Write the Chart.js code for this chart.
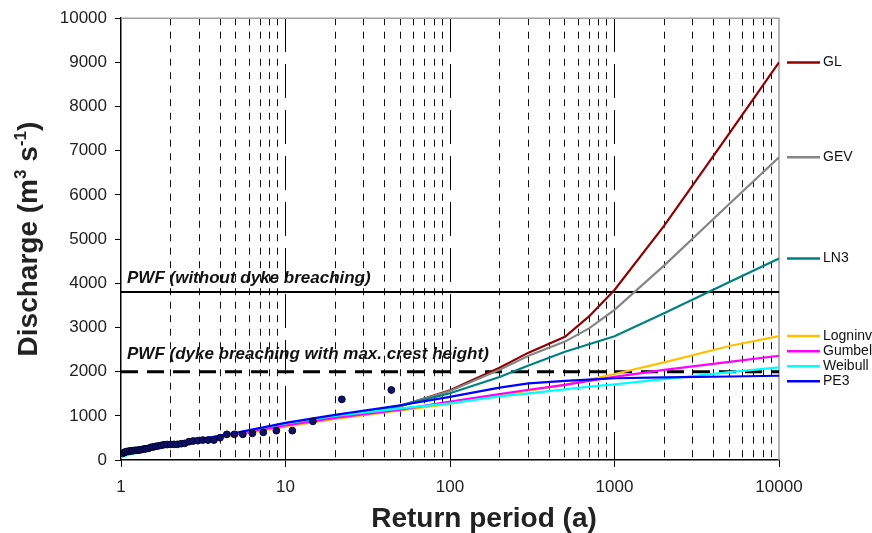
<!DOCTYPE html>
<html>
<head>
<meta charset="utf-8">
<script src="https://cdn.jsdelivr.net/npm/chart.js@4/dist/chart.umd.min.js"></script>
<style>
  html, body { margin: 0; padding: 0; background: #fff; }
  #wrap { width: 872px; height: 533px; }
</style>
</head>
<body>
<div id="wrap"><canvas id="chart" width="872" height="533"></canvas></div>
<script>
// return periods (a) at which the fitted curves are given
const periods = [1, 1.5, 2, 3, 5, 10, 20, 50, 100, 200, 300, 500, 700, 1000, 2000, 5000, 10000];

// discharge (m3/s) of each fitted distribution
const glValues      = [110, 250, 340, 450, 580, 770, 960, 1220, 1580, 2090, 2430, 2790, 3250, 3850, 5300, 7400, 9000];
const gevValues     = [110, 250, 340, 450, 580, 770, 960, 1230, 1560, 2040, 2360, 2680, 2980, 3400, 4400, 5800, 6850];
const ln3Values     = [110, 250, 340, 455, 585, 780, 970, 1230, 1510, 1880, 2140, 2450, 2620, 2800, 3320, 4030, 4560];
const logninvValues = [100, 240, 330, 440, 565, 755, 930, 1120, 1270, 1470, 1570, 1700, 1820, 1946, 2210, 2580, 2805];
const gumbelValues  = [110, 250, 345, 460, 590, 780, 950, 1140, 1320, 1490, 1590, 1700, 1790, 1880, 2040, 2220, 2360];
const weibullValues = [70, 250, 350, 470, 610, 830, 1000, 1170, 1280, 1440, 1510, 1600, 1660, 1710, 1830, 1990, 2097];
const pe3Values     = [120, 260, 355, 470, 615, 840, 1020, 1240, 1430, 1640, 1735, 1790, 1820, 1850, 1870, 1890, 1907];

// observed annual maxima (plotting positions)
const obsPeriods = [1.02, 1.05, 1.07, 1.10, 1.13, 1.16, 1.19, 1.22, 1.26, 1.29, 1.33, 1.38, 1.42, 1.47, 1.52,
  1.57, 1.63, 1.69, 1.76, 1.83, 1.91, 2.0, 2.1, 2.2, 2.32, 2.44, 2.59, 2.75, 2.93, 3.14, 3.38, 3.67, 4.0,
  4.4, 4.89, 5.5, 6.29, 7.33, 8.8, 11, 14.67, 22, 44];
const obsValues = [150, 170, 189, 195, 204, 208, 211, 219, 222, 226, 235, 249, 255, 264, 287,
  295, 309, 320, 332, 347, 350, 354, 354, 354, 369, 377, 415, 430, 437, 452, 452, 452, 505,
  581, 581, 581, 603, 626, 664, 664, 875, 1373, 1584];

// probable worst floods
const pwfLevels = [3800, 2000];
const pwfLabels = ['PWF (without dyke breaching)', 'PWF (dyke breaching with max. crest height)'];

const yTicks = [0, 1000, 2000, 3000, 4000, 5000, 6000, 7000, 8000, 9000, 10000];
const xDecades = [1, 10, 100, 1000, 10000];

const FONT = "'Liberation Sans', Arial, Helvetica, sans-serif";

function pts(xs, ys) {
    return xs.map((x, i) => ({ x: x, y: ys[i] }));
}

const curves = [
    { label: 'GL', values: glValues, color: '#900000' },
    { label: 'GEV', values: gevValues, color: '#858585' },
    { label: 'LN3', values: ln3Values, color: '#008080' },
    { label: 'Logninv', values: logninvValues, color: '#FFC000' },
    { label: 'Gumbel', values: gumbelValues, color: '#FF00FF' },
    { label: 'Weibull', values: weibullValues, color: '#00FFFF' },
    { label: 'PE3', values: pe3Values, color: '#0000FF' }
];

const datasets = [];
datasets.push({
    type: 'scatter',
    label: 'observed',
    data: pts(obsPeriods, obsValues),
    xAxisID: 'x',
    pointRadius: 3.4,
    pointBackgroundColor: '#10106a',
    pointBorderColor: '#000030',
    pointBorderWidth: 1,
    order: 0
});
curves.forEach((c, i) => {
    datasets.push({
        type: 'line',
        label: c.label,
        data: pts(periods, c.values),
        xAxisID: 'x',
        borderColor: c.color,
        borderWidth: 2.2,
        pointRadius: 0,
        tension: 0,
        fill: false,
        order: 10 - i
    });
});
datasets.push({
    type: 'line',
    label: 'pwf1',
    data: pts([1, 10000], [pwfLevels[0], pwfLevels[0]]),
    xAxisID: 'x',
    borderColor: '#000',
    borderWidth: 2,
    pointRadius: 0,
    order: 20
});
datasets.push({
    type: 'line',
    label: 'pwf2',
    data: pts([1, 10000], [pwfLevels[1], pwfLevels[1]]),
    xAxisID: 'x',
    borderColor: '#000',
    borderWidth: 3,
    borderDash: [17, 9],
    pointRadius: 0,
    order: 20
});

function isDecade(v) {
    return xDecades.indexOf(v) >= 0;
}

// Extra drawing: frame, PWF labels, legend, axis titles
const decor = {
    id: 'decor',
    beforeDatasetsDraw(chart) {
        const a = chart.chartArea;
        const ctx = chart.ctx;
        ctx.save();
        ctx.strokeStyle = '#a0a0a0';
        ctx.lineWidth = 1.5;
        ctx.beginPath();
        ctx.moveTo(a.left, a.top);
        ctx.lineTo(a.right, a.top);
        ctx.lineTo(a.right, a.bottom);
        ctx.stroke();
        ctx.restore();
    },
    afterDatasetsDraw(chart) {
        const ctx = chart.ctx;
        const y = chart.scales.y;
        const a = chart.chartArea;
        ctx.save();

        // PWF labels
        ctx.fillStyle = '#111';
        ctx.font = 'italic bold 17px ' + FONT;
        ctx.textBaseline = 'alphabetic';
        ctx.textAlign = 'left';
        ctx.fillText(pwfLabels[0], a.left + 6, y.getPixelForValue(pwfLevels[0]) - 9);
        ctx.fillText(pwfLabels[1], a.left + 6, y.getPixelForValue(pwfLevels[1]) - 13);

        // legend at the end of each curve, spread so labels do not overlap
        const items = curves.map(c => ({ c: c, y: y.getPixelForValue(c.values[c.values.length - 1]) }));
        items.sort((p, q) => p.y - q.y);
        const gap = 15;
        for (let it = 0; it < 60; it++) {
            for (let i = 0; i < items.length - 1; i++) {
                const d = items[i + 1].y - items[i].y;
                if (d < gap) {
                    items[i].y -= (gap - d) / 2;
                    items[i + 1].y += (gap - d) / 2;
                }
            }
        }
        ctx.font = '14px ' + FONT;
        ctx.textBaseline = 'middle';
        items.forEach(p => {
            ctx.strokeStyle = p.c.color;
            ctx.lineWidth = 2.5;
            ctx.beginPath();
            ctx.moveTo(a.right + 8, p.y);
            ctx.lineTo(a.right + 41, p.y);
            ctx.stroke();
            ctx.fillStyle = '#111';
            ctx.fillText(p.c.label, a.right + 44, p.y);
        });
        ctx.restore();
    },
    afterDraw(chart) {
        const ctx = chart.ctx;
        const a = chart.chartArea;
        ctx.save();
        ctx.fillStyle = '#222';

        // x title
        ctx.font = 'bold 28px ' + FONT;
        ctx.textAlign = 'center';
        ctx.textBaseline = 'alphabetic';
        ctx.fillText('Return period (a)', 484, 527);

        // y title with superscripts
        const parts = [
            { t: 'Discharge (m', sup: false },
            { t: '3', sup: true },
            { t: ' s', sup: false },
            { t: '-1', sup: true },
            { t: ')', sup: false }
        ];
        const big = 'bold 28px ' + FONT;
        const small = 'bold 17px ' + FONT;
        let total = 0;
        parts.forEach(p => {
            ctx.font = p.sup ? small : big;
            p.w = ctx.measureText(p.t).width;
            total += p.w;
        });
        ctx.translate(27, (a.top + a.bottom) / 2);
        ctx.rotate(-Math.PI / 2);
        ctx.textAlign = 'left';
        let x = -total / 2;
        parts.forEach(p => {
            ctx.font = p.sup ? small : big;
            ctx.fillText(p.t, x, p.sup ? -1 : 10);
            x += p.w;
        });
        ctx.restore();
    }
};

new Chart(document.getElementById('chart'), {
    data: { datasets: datasets },
    options: {
        responsive: false,
        animation: false,
        devicePixelRatio: 1,
        layout: { padding: { top: 18, right: 93, left: 0, bottom: 0 } },
        plugins: {
            legend: { display: false },
            tooltip: { enabled: false }
        },
        scales: {
            x: {
                type: 'logarithmic',
                position: 'bottom',
                min: 1,
                max: 10000,
                afterBuildTicks: (scale) => {
                    const t = [];
                    [1, 10, 100, 1000].forEach(d => {
                        for (let k = 1; k <= 9; k++) t.push({ value: k * d });
                    });
                    t.push({ value: 10000 });
                    scale.ticks = t;
                },
                afterFit: (scale) => { scale.height = 73; },
                border: { display: true, color: '#000', width: 1.5, dash: [7, 6.5] },
                grid: {
                    drawOnChartArea: true,
                    drawTicks: true,
                    tickLength: 7,
                    lineWidth: 1,
                    color: (ctx) => (ctx.tick && isDecade(ctx.tick.value)) ? 'rgba(0,0,0,0)' : '#111',
                    tickColor: (ctx) => (ctx.tick && isDecade(ctx.tick.value)) ? '#000' : 'rgba(0,0,0,0)'
                },
                ticks: {
                    autoSkip: false,
                    maxRotation: 0,
                    padding: 10,
                    color: '#222',
                    font: { family: FONT, size: 17 },
                    callback: (v) => isDecade(v) ? String(v) : ''
                }
            },
            xMajor: {
                type: 'logarithmic',
                position: 'top',
                min: 1,
                max: 10000,
                afterBuildTicks: (scale) => {
                    scale.ticks = [10, 100, 1000].map(v => ({ value: v }));
                },
                afterFit: (scale) => { scale.height = 0; },
                border: { display: false, dash: [34, 12] },
                grid: { drawTicks: false, color: '#000', lineWidth: 1 },
                ticks: { display: false }
            },
            y: {
                type: 'linear',
                min: 0,
                max: 10000,
                afterBuildTicks: (scale) => {
                    scale.ticks = yTicks.map(v => ({ value: v }));
                },
                afterFit: (scale) => { scale.width = 121; },
                border: { display: true, color: '#000', width: 1.5 },
                grid: { drawOnChartArea: false, drawTicks: true, tickLength: 6, tickColor: '#000' },
                ticks: {
                    padding: 8,
                    color: '#222',
                    font: { family: FONT, size: 17 },
                    callback: (v) => String(v)
                }
            }
        }
    },
    plugins: [decor]
});
</script>
</body>
</html>
